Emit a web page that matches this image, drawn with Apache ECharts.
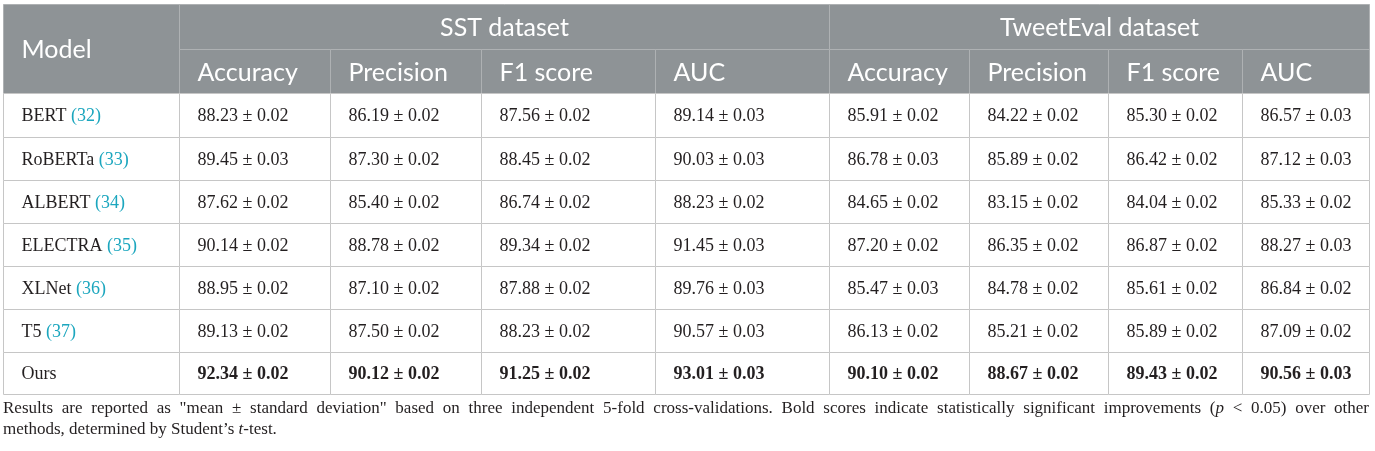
<!DOCTYPE html>
<html>
<head>
<meta charset="utf-8">
<script src="https://cdn.jsdelivr.net/npm/echarts@6/dist/echarts.min.js"></script>
<style>
  html, body { margin: 0; padding: 0; background: #fff; }
  #main { width: 1375px; height: 451px; }
</style>
</head>
<body>
<div id="main"></div>
<script>
// 表格数据
const models = ['BERT', 'RoBERTa', 'ALBERT', 'ELECTRA', 'XLNet', 'T5', 'Ours'];
const refs = ['(32)', '(33)', '(34)', '(35)', '(36)', '(37)', ''];
const datasets = ['SST dataset', 'TweetEval dataset'];
const metrics = ['Accuracy', 'Precision', 'F1 score', 'AUC'];

// SST: Accuracy, Precision, F1 score, AUC
const sstMean = [
  [88.23, 86.19, 87.56, 89.14],
  [89.45, 87.30, 88.45, 90.03],
  [87.62, 85.40, 86.74, 88.23],
  [90.14, 88.78, 89.34, 91.45],
  [88.95, 87.10, 87.88, 89.76],
  [89.13, 87.50, 88.23, 90.57],
  [92.34, 90.12, 91.25, 93.01]
];
const sstStd = [
  [0.02, 0.02, 0.02, 0.03],
  [0.03, 0.02, 0.02, 0.03],
  [0.02, 0.02, 0.02, 0.02],
  [0.02, 0.02, 0.02, 0.03],
  [0.02, 0.02, 0.02, 0.03],
  [0.02, 0.02, 0.02, 0.03],
  [0.02, 0.02, 0.02, 0.03]
];
// TweetEval: Accuracy, Precision, F1 score, AUC
const tweetMean = [
  [85.91, 84.22, 85.30, 86.57],
  [86.78, 85.89, 86.42, 87.12],
  [84.65, 83.15, 84.04, 85.33],
  [87.20, 86.35, 86.87, 88.27],
  [85.47, 84.78, 85.61, 86.84],
  [86.13, 85.21, 85.89, 87.09],
  [90.10, 88.67, 89.43, 90.56]
];
const tweetStd = [
  [0.02, 0.02, 0.02, 0.03],
  [0.03, 0.02, 0.02, 0.03],
  [0.02, 0.02, 0.02, 0.02],
  [0.02, 0.02, 0.02, 0.03],
  [0.03, 0.02, 0.02, 0.02],
  [0.02, 0.02, 0.02, 0.02],
  [0.02, 0.02, 0.02, 0.03]
];
const boldRow = 'Ours';

const captionLine1 = 'Results are reported as "mean ± standard deviation" based on three independent 5-fold cross-validations. Bold scores indicate statistically significant improvements ({i|p} < 0.05) over other';
const captionLine2 = 'methods, determined by Student\u2019s {i|t}-test.';

// 版式（列宽、行高）
const colEdges = [0, 176, 327, 478, 652, 826, 966, 1105, 1239, 1366];
const rowEdges = [0, 45, 89, 133, 176, 219, 262, 305, 348, 390];
const TABLE_LEFT = 3, TABLE_TOP = 4;
const PAD = 18;

const HEAD_FILL = '#8e9396';
const HEAD_LINE = '#aeb1b3';
const BODY_LINE = '#c6c6c6';
const REF_COLOR = '#1ba6be';
const TEXT_COLOR = '#231f20';
const SANS = 'Lato, "Open Sans", sans-serif';
const SERIF = '"Liberation Serif", "DejaVu Serif", serif';
const HEAD_SIZE = 25;
const BODY_SIZE = 18;

// 单元格列表
let cells = [];
cells.push({ c0: 0, c1: 1, r0: 0, r1: 2, text: 'Model', head: true, align: 'left' });
datasets.forEach((d, k) => {
  cells.push({ c0: 1 + k * 4, c1: 5 + k * 4, r0: 0, r1: 1, text: d, head: true, align: 'center' });
  metrics.forEach((m, j) => {
    cells.push({ c0: 1 + k * 4 + j, c1: 2 + k * 4 + j, r0: 1, r1: 2, text: m, head: true, align: 'left' });
  });
});
models.forEach((name, i) => {
  let bold = name === boldRow;
  cells.push({ c0: 0, c1: 1, r0: 2 + i, r1: 3 + i, text: refs[i] ? name + ' {r|' + refs[i] + '}' : name, align: 'left' });
  [[sstMean, sstStd], [tweetMean, tweetStd]].forEach((pair, k) => {
    pair[0][i].forEach((v, j) => {
      cells.push({
        c0: 1 + k * 4 + j, c1: 2 + k * 4 + j, r0: 2 + i, r1: 3 + i,
        text: v.toFixed(2) + ' \u00b1 ' + pair[1][i][j].toFixed(2), bold: bold, align: 'left'
      });
    });
  });
});

let renderCell = (params, api) => {
  let c = cells[params.dataIndex];
  let p0 = api.coord([api.value(0), api.value(1)]);
  let p1 = api.coord([api.value(2), api.value(3)]);
  let x0 = Math.round(p0[0]) + 0.5, y0 = Math.round(p0[1]) + 0.5;
  let x1 = Math.round(p1[0]) + 0.5, y1 = Math.round(p1[1]) + 0.5;
  let tx = c.align === 'center' ? (x0 + x1) / 2 : x0 + PAD;
  return {
    type: 'group',
    children: [
      {
        type: 'rect',
        shape: { x: x0, y: y0, width: x1 - x0, height: y1 - y0 },
        style: { fill: c.head ? HEAD_FILL : '#fff', stroke: c.head ? HEAD_LINE : BODY_LINE, lineWidth: 1 }
      },
      {
        type: 'text',
        x: tx,
        y: (y0 + y1) / 2 + 1,
        style: {
          text: c.text,
          fill: c.head ? '#fff' : TEXT_COLOR,
          fontFamily: c.head ? SANS : SERIF,
          fontSize: c.head ? HEAD_SIZE : BODY_SIZE,
          fontWeight: c.bold ? 'bold' : 'normal',
          align: c.align,
          verticalAlign: 'middle',
          rich: { r: { fill: REF_COLOR, fontFamily: SERIF, fontSize: BODY_SIZE } }
        }
      }
    ]
  };
};

// 两端对齐的说明文字
const CAP_FONT = 17;
let measure = (s) => {
  let ctx = document.createElement('canvas').getContext('2d');
  ctx.font = CAP_FONT + 'px "Liberation Serif"';
  return ctx.measureText(s.replace(/\{i\|([^}]*)\}/g, '$1')).width;
};
let capRich = { i: { fontStyle: 'italic', fontFamily: SERIF, fontSize: CAP_FONT, fill: TEXT_COLOR } };
let captionGraphics = [];
let words = captionLine1.split(' ');
let widths = words.map(measure);
let total = widths.reduce((a, b) => a + b, 0);
let gap = (colEdges[colEdges.length - 1] - total) / (words.length - 1);
let cx = TABLE_LEFT;
words.forEach((w, i) => {
  captionGraphics.push({
    type: 'text', left: cx, top: 400,
    style: { text: w, fontFamily: SERIF, fontSize: CAP_FONT, fill: TEXT_COLOR, rich: capRich }
  });
  cx += widths[i] + gap;
});
captionGraphics.push({
  type: 'text', left: TABLE_LEFT, top: 421,
  style: { text: captionLine2, fontFamily: SERIF, fontSize: CAP_FONT, fill: TEXT_COLOR, rich: capRich }
});

let chart = echarts.init(document.getElementById('main'));
let option = {
  animation: false,
  grid: { left: TABLE_LEFT, top: TABLE_TOP, width: colEdges[colEdges.length - 1], height: rowEdges[rowEdges.length - 1] },
  xAxis: { type: 'value', min: 0, max: colEdges[colEdges.length - 1], show: false },
  yAxis: { type: 'value', min: 0, max: rowEdges[rowEdges.length - 1], inverse: true, show: false },
  graphic: captionGraphics,
  series: [
    {
      type: 'custom',
      renderItem: renderCell,
      clip: false,
      encode: { x: [0, 2], y: [1, 3] },
      data: cells.map(c => [colEdges[c.c0], rowEdges[c.r0], colEdges[c.c1], rowEdges[c.r1]])
    }
  ]
};
chart.setOption(option);
</script>
</body>
</html>
